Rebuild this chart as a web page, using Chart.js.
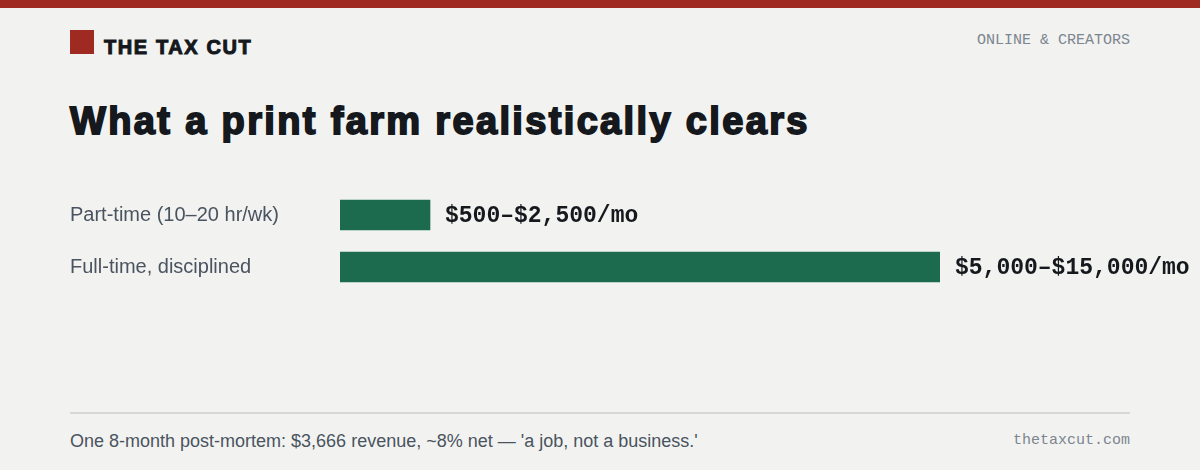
<!DOCTYPE html>
<html>
<head>
<meta charset="utf-8">
<script src="https://cdn.jsdelivr.net/npm/chart.js@4"></script>
<style>
  html, body { margin: 0; padding: 0; }
  body { width: 1200px; height: 470px; background: #f2f3f0; position: relative; overflow: hidden; font-family: "Liberation Sans", Arial, sans-serif; }
  .topbar { position: absolute; left: 0; top: 0; width: 1200px; height: 8px; background: #9e2a22; }
  .logo-sq { position: absolute; left: 70px; top: 30px; width: 24px; height: 24px; background: #9e2a22; }
  .brand { position: absolute; left: 104px; top: 37px; font-size: 20px; line-height: 1; font-weight: bold; letter-spacing: 1.6px; color: #15181d; -webkit-text-stroke: 1px #15181d; }
  .section { position: absolute; right: 70px; top: 33px; font-family: "Liberation Mono", monospace; font-size: 15px; line-height: 1; color: #7d8590; }
  .title { position: absolute; left: 70px; top: 102px; font-size: 38px; line-height: 1; font-weight: bold; letter-spacing: 2.35px; color: #15181d; -webkit-text-stroke: 1.8px #15181d; white-space: nowrap; }
  .rule { position: absolute; left: 70px; top: 412px; width: 1060px; height: 2px; background: #d6d9d3; }
  .note { position: absolute; left: 70px; top: 432px; font-size: 18px; line-height: 1; color: #4a5360; white-space: nowrap; }
  .site { position: absolute; right: 70px; top: 433px; font-family: "Liberation Mono", monospace; font-size: 15px; line-height: 1; color: #7d8590; }
  #chart { position: absolute; left: 70px; top: 189px; }
</style>
</head>
<body>
<div class="topbar"></div>
<div class="logo-sq"></div>
<div class="brand">THE TAX CUT</div>
<div class="section">ONLINE &amp; CREATORS</div>
<div class="title">What a print farm realistically clears</div>
<canvas id="chart" width="1130" height="104"></canvas>
<div class="rule"></div>
<div class="note">One 8-month post-mortem: $3,666 revenue, ~8% net — 'a job, not a business.'</div>
<div class="site">thetaxcut.com</div>

<script>
// data
const categories = ['Part-time (10–20 hr/wk)', 'Full-time, disciplined'];
const monthlyMid = [1500, 10000];   // midpoint of each range, $/mo
const rangeLabels = ['$500–$2,500/mo', '$5,000–$15,000/mo'];

const valueLabels = {
  id: 'valueLabels',
  afterDatasetsDraw(chart) {
    const ctx = chart.ctx;
    const meta = chart.getDatasetMeta(0);
    ctx.save();
    ctx.font = 'bold 23px "Liberation Mono", monospace';
    ctx.fillStyle = '#15181d';
    ctx.textBaseline = 'middle';
    meta.data.forEach((bar, i) => {
      ctx.fillText(rangeLabels[i], bar.x + 15, bar.y + 1);
    });
    ctx.restore();
  }
};

new Chart(document.getElementById('chart'), {
  type: 'bar',
  data: {
    labels: categories,
    datasets: [{
      data: monthlyMid,
      backgroundColor: '#1c6b4f',
      borderWidth: 0,
      barThickness: 30
    }]
  },
  options: {
    indexAxis: 'y',
    responsive: false,
    animation: false,
    layout: { padding: { left: 0, right: 260, top: 0, bottom: 0 } },
    scales: {
      x: { display: false, min: 0, max: 10000 },
      y: {
        grid: { display: false },
        border: { display: false },
        afterFit(scale) {
          scale.width = 270;
          scale.paddingTop = 0;
          scale.paddingBottom = 0;
        },
        ticks: {
          crossAlign: 'far',
          padding: 0,
          color: '#4a5360',
          font: { family: '"Liberation Sans", Arial, sans-serif', size: 20 }
        }
      }
    },
    plugins: {
      legend: { display: false },
      tooltip: { enabled: false }
    }
  },
  plugins: [valueLabels]
});
</script>
</body>
</html>
